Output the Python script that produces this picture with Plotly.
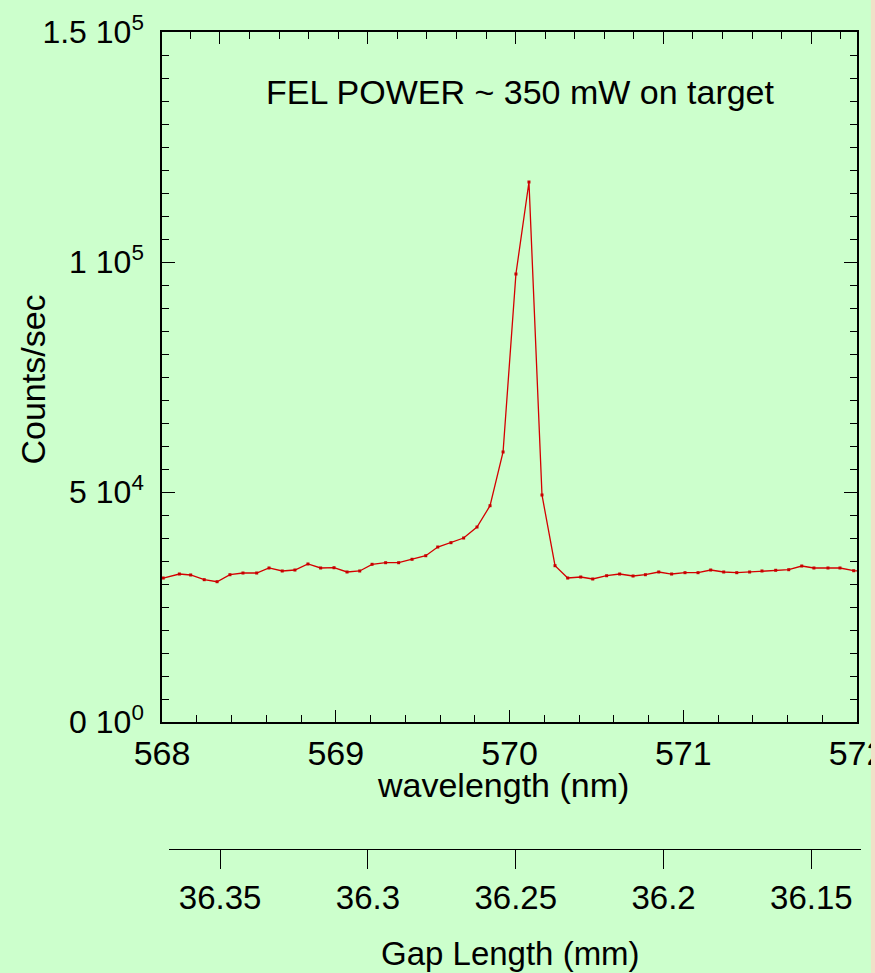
import plotly.graph_objects as go

# Scan of the FEL output: detector counts versus wavelength
wavelength_nm = [568.007, 568.100, 568.165, 568.243, 568.317, 568.391, 568.466, 568.545, 568.616, 568.692,
                 568.765, 568.840, 568.913, 568.990, 569.065, 569.138, 569.209, 569.287, 569.362, 569.439,
                 569.518, 569.587, 569.663, 569.736, 569.813, 569.888, 569.963, 570.037, 570.112, 570.187,
                 570.262, 570.335, 570.410, 570.479, 570.559, 570.634, 570.711, 570.782, 570.859, 570.933,
                 571.010, 571.085, 571.158, 571.233, 571.308, 571.382, 571.453, 571.532, 571.607, 571.682,
                 571.752, 571.833, 571.902, 571.981, 572.056]
counts_per_sec = [31300, 32170, 31960, 30940, 30500, 32020, 32390, 32390, 33480, 32830,
                  33040, 34350, 33480, 33540, 32610, 32830, 34280, 34630, 34630, 35370,
                  36150, 38040, 38980, 40000, 42390, 47020, 58700, 97390, 117390, 49350,
                  33980, 31300, 31520, 31090, 31800, 32170, 31740, 32020, 32610, 32170,
                  32460, 32460, 33040, 32610, 32460, 32610, 32830, 32980, 33110, 33910,
                  33480, 33480, 33480, 32890, 32700]

# Axis ticks
y_tickvals = [0, 50000, 100000, 150000]
y_ticktext = ["0 10<sup>0</sup>", "5 10<sup>4</sup>", "1 10<sup>5</sup>", "1.5 10<sup>5</sup>"]
wl_tickvals = [568, 569, 570, 571, 572]
wl_ticktext = ["568", "569", "570", "571", "572"]
gap_tickvals = [36.35, 36.30, 36.25, 36.20, 36.15]
gap_ticktext = ["36.35", "36.3", "36.25", "36.2", "36.15"]

# Axis ranges
wl_range = [568, 572]
counts_range = [0, 150000]
gap_range_top = [36.3696, 36.1345]
gap_range_bottom = [36.3673, 36.1332]

FONT = "Liberation Sans, Arial, Helvetica, sans-serif"
BG = "#ccffcc"
RED = "#d40000"

W, H = 875, 973
L, R, T, B = 162, 14, 32, 124
PW, PH = W - L - R, H - T - B


def px_x(x):
    return (x - L) / PW


def px_y(y):
    return (H - B - y) / PH


fig = go.Figure()
# helper traces so the gap-length axes are laid out
fig.add_trace(go.Scatter(x=[], y=[], xaxis="x2", yaxis="y", showlegend=False, hoverinfo="skip"))
fig.add_trace(go.Scatter(x=[], y=[], xaxis="x3", yaxis="y", showlegend=False, hoverinfo="skip"))
fig.add_trace(go.Scatter(
    x=wavelength_nm, y=counts_per_sec, mode="lines+markers",
    line=dict(color=RED, width=1.3),
    marker=dict(symbol="square", size=3, color="#c80000"),
    showlegend=False, hoverinfo="x+y",
))

axis_common = dict(showgrid=False, zeroline=False, linecolor="black", tickcolor="black")

fig.update_layout(
    width=W, height=H,
    margin=dict(l=L, r=R, t=T, b=B, autoexpand=False),
    paper_bgcolor=BG, plot_bgcolor="rgba(0,0,0,0)",
    font=dict(family=FONT, size=34, color="black"),
    xaxis=dict(
        **axis_common, domain=[0, px_x(857)], range=wl_range, anchor="y",
        showline=True, linewidth=1.5, mirror=False,
        tickmode="array", tickvals=wl_tickvals, ticktext=wl_ticktext,
        ticks="inside", ticklen=12, tickwidth=1.2,
        minor=dict(dtick=0.2, ticks="inside", ticklen=7, tickcolor="black", tickwidth=1),
        tickfont=dict(size=34), ticklabelstandoff=0, ticklabeloverflow="allow",
    ),
    xaxis3=dict(
        **axis_common, overlaying="x", side="top", anchor="y", range=gap_range_top,
        showline=True, linewidth=1.5,
        tickmode="array", tickvals=gap_tickvals, showticklabels=False,
        ticks="inside", ticklen=12, tickwidth=1.2,
        minor=dict(dtick=0.01, ticks="inside", ticklen=7, tickcolor="black", tickwidth=1),
    ),
    xaxis2=dict(
        **axis_common, domain=[px_x(169), 1], anchor="free", position=0, side="bottom",
        range=gap_range_bottom, showline=True, linewidth=1.2,
        tickmode="array", tickvals=gap_tickvals, ticktext=gap_ticktext,
        ticks="outside", ticklen=19, tickwidth=1,
        tickfont=dict(size=33), ticklabelstandoff=0, ticklabeloverflow="allow",
    ),
    yaxis=dict(
        **axis_common, domain=[px_y(722), 1], range=counts_range, anchor="x",
        showline=True, linewidth=1.5, mirror="ticks",
        tickmode="array", tickvals=y_tickvals, ticktext=y_ticktext,
        ticks="inside", ticklen=13, tickwidth=1.2,
        minor=dict(dtick=5000, ticks="inside", ticklen=7, tickcolor="black", tickwidth=1),
        tickfont=dict(size=32), ticklabelstandoff=10,
    ),
    annotations=[
        dict(text="FEL POWER ~ 350 mW on target", xref="paper", yref="paper",
             x=px_x(264), y=px_y(92), xanchor="left", yanchor="middle",
             showarrow=False, font=dict(size=34)),
        dict(text="wavelength (nm)", xref="paper", yref="paper",
             x=px_x(503), y=px_y(785), xanchor="center", yanchor="middle",
             showarrow=False, font=dict(size=34)),
        dict(text="Gap Length (mm)", xref="paper", yref="paper",
             x=px_x(510), y=px_y(953), xanchor="center", yanchor="middle",
             showarrow=False, font=dict(size=33)),
        dict(text="Counts/sec", xref="paper", yref="paper", textangle=-90,
             x=px_x(32.5), y=px_y(380), xanchor="center", yanchor="middle",
             showarrow=False, font=dict(size=34)),
    ],
    shapes=[
        dict(type="rect", xref="paper", yref="paper", layer="above",
             x0=px_x(871), x1=px_x(877), y0=px_y(H + 2), y1=px_y(-2),
             fillcolor="#f0e0c8", line=dict(width=0)),
    ],
)

fig.write_html("out.html")
